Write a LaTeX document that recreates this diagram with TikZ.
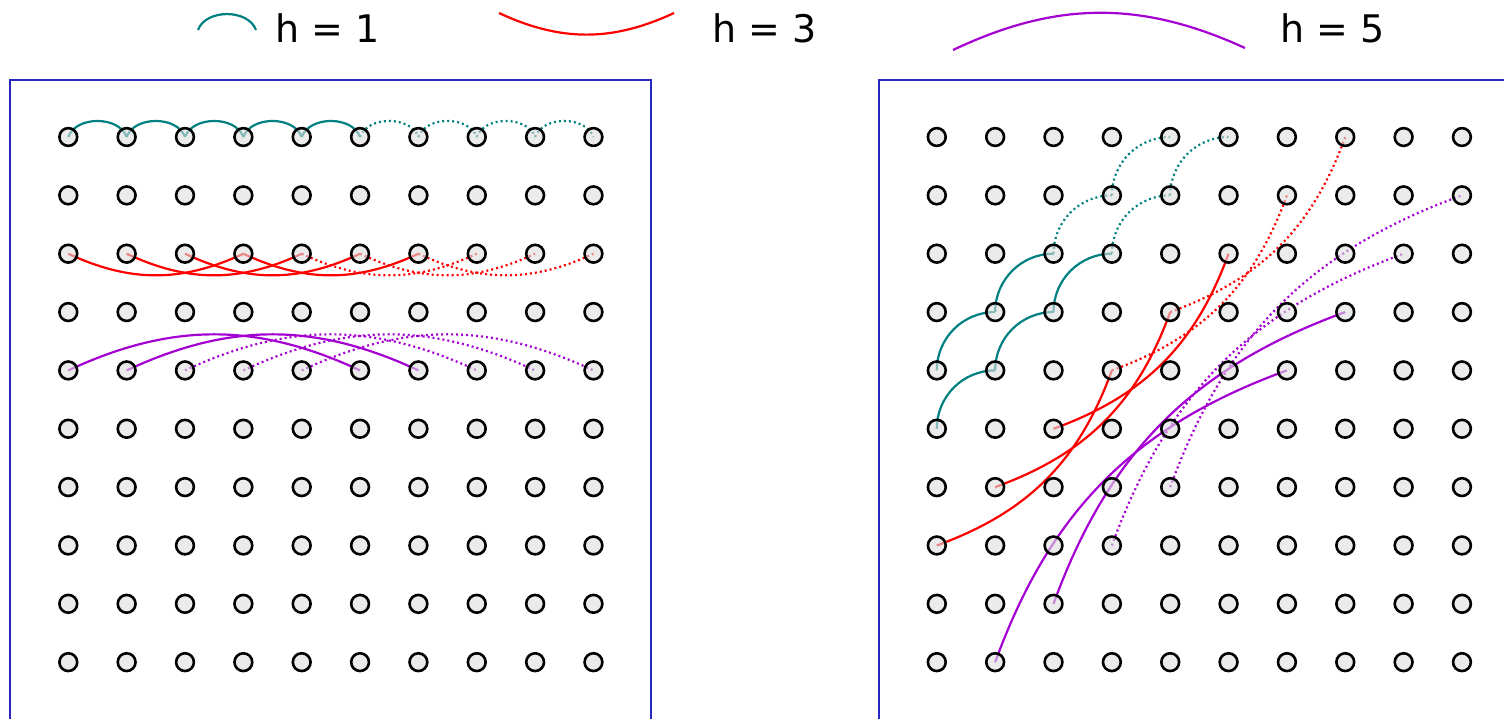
\documentclass[tikz,border=0pt]{standalone}
\usepackage{fontspec}
\setmainfont{DejaVu Sans}
\usetikzlibrary{backgrounds}
\definecolor{hteal}{RGB}{0,128,128}
\definecolor{hred}{RGB}{255,0,0}
\definecolor{hpurple}{RGB}{165,0,210}
\definecolor{panelblue}{RGB}{40,40,190}
\definecolor{cellgray}{RGB}{222,222,222}
\begin{document}
\begin{tikzpicture}[x=0.5pt,y=-0.5pt,
	cell/.style={circle,draw=black,line width=1.3pt,fill=cellgray,fill opacity=0.6,inner sep=0pt,minimum size=8.9pt},
	h1/.style={draw=hteal,line width=1.1pt},
	h3/.style={draw=hred,line width=1.1pt},
	h5/.style={draw=hpurple,line width=1.1pt},
	ghost/.style={dash pattern=on 1pt off 1.5pt},
	panel/.style={draw=panelblue,line width=0.6pt},
	lbl/.style={anchor=base west,inner sep=0pt,font=\fontsize{19}{22}\selectfont}]
	\useasboundingbox (0,0) rectangle (1504,718);

	% legend
	\coordinate (k1a) at (198,30); \coordinate (k1b) at (256,30);
	\coordinate (k3a) at (499,13); \coordinate (k3b) at (674,13);
	\coordinate (k5a) at (953,50); \coordinate (k5b) at (1245,48);
	\draw[h1] (k1a) to[bend left=70] (k1b);
	\draw[h3] (k3a) to[bend right=25] (k3b);
	\draw[h5] (k5a) to[bend left=25] (k5b);
	\node[lbl] (t1) at (275,42) {h = 1};
	\node[lbl] (t3) at (712,42) {h = 3};
	\node[lbl] (t5) at (1280,42) {h = 5};

	\draw[panel] (10,730) |- (651,80) -- (651,730);
	\draw[panel] (879,730) |- (1510,80);

	\foreach \i in {0,...,9}
		\foreach \j in {0,...,9} {
			\node[cell] (L-\i-\j) at ({68.3+58.35*\i},{137+58.35*\j}) {};
			\node[cell] (R-\i-\j) at ({936.8+58.35*\i},{137+58.35*\j}) {};
		}

	\begin{scope}[on background layer]
		% left grid, one row per h
		\foreach \a/\b in {0/1,1/2,2/3,3/4,4/5}
			\draw[h1] (L-\a-0.center) to[bend left=70] (L-\b-0.center);
		\foreach \a/\b in {5/6,6/7,7/8,8/9}
			\draw[h1,ghost] (L-\a-0.center) to[bend left=70] (L-\b-0.center);
		\foreach \a/\b in {0/3,1/4,2/5,3/6}
			\draw[h3] (L-\a-2.center) to[bend right=25] (L-\b-2.center);
		\foreach \a/\b in {4/7,5/8,6/9}
			\draw[h3,ghost] (L-\a-2.center) to[bend right=25] (L-\b-2.center);
		\foreach \a/\b in {0/5,1/6}
			\draw[h5] (L-\a-4.center) to[bend left=25] (L-\b-4.center);
		\foreach \a/\b in {2/7,3/8,4/9}
			\draw[h5,ghost] (L-\a-4.center) to[bend left=25] (L-\b-4.center);

		% right grid, along the diagonals
		\foreach \a/\b in {0-5/1-4,0-4/1-3,1-4/2-3,1-3/2-2,2-3/3-2}
			\draw[h1] (R-\a.center) to[bend left=45] (R-\b.center);
		\foreach \a/\b in {2-2/3-1,3-2/4-1,3-1/4-0,4-1/5-0}
			\draw[h1,ghost] (R-\a.center) to[bend left=45] (R-\b.center);
		\foreach \a/\b in {0-7/3-4,1-6/4-3,2-5/5-2}
			\draw[h3] (R-\a.center) to[bend right=25] (R-\b.center);
		\foreach \a/\b in {3-4/6-1,4-3/7-0}
			\draw[h3,ghost] (R-\a.center) to[bend right=25] (R-\b.center);
		\foreach \a/\b in {1-9/6-4,2-8/7-3}
			\draw[h5] (R-\a.center) to[bend left=25] (R-\b.center);
		\foreach \a/\b in {3-7/8-2,4-6/9-1}
			\draw[h5,ghost] (R-\a.center) to[bend left=25] (R-\b.center);
	\end{scope}
\end{tikzpicture}
\end{document}
